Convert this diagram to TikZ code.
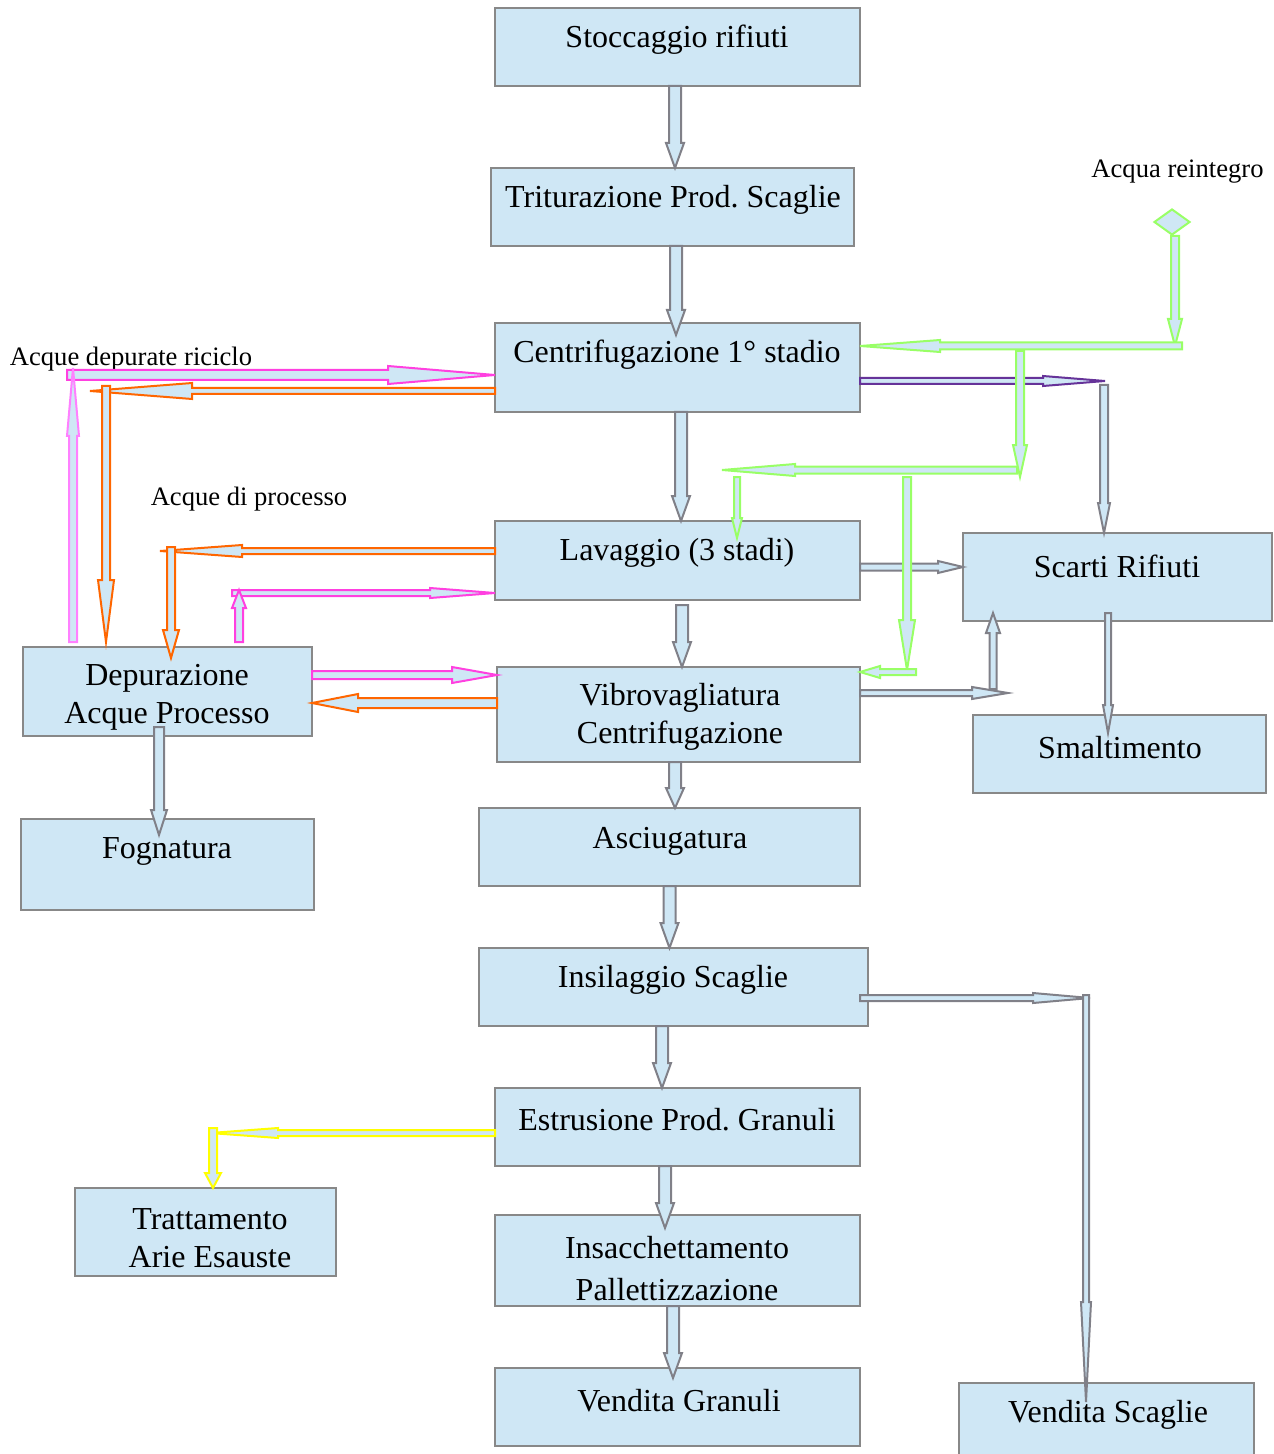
\documentclass[tikz,border=0pt]{standalone}
\usepackage{fontspec}
\setmainfont{Liberation Serif}
\usetikzlibrary{calc,shapes.geometric}
\definecolor{boxfill}{RGB}{207,231,245}
\definecolor{boxline}{RGB}{136,136,136}
\definecolor{flowgray}{RGB}{128,128,136}
\definecolor{flowpink}{RGB}{255,64,224}
\definecolor{flowlilac}{RGB}{255,128,255}
\definecolor{floworange}{RGB}{255,102,0}
\definecolor{flowgreen}{RGB}{153,255,102}
\definecolor{flowpurple}{RGB}{102,51,153}
\definecolor{flowyellow}{RGB}{255,255,0}
\frenchspacing
% block arrow: [colour]{from}{to}{shaft half width}{head half width}{head length}, sizes in px
\newcommand{\flow}[6][flowgray]{%
  \filldraw[fill=boxfill, draw=#1, line width=1pt]
    let \p1=(#2), \p2=(#3),
        \n1={veclen(\x2-\x1,\y2-\y1)},
        \n2={(\x2-\x1)/\n1}, \n3={(\y2-\y1)/\n1},
        \p4=({\x2-0.5*#6*\n2},{\y2-0.5*#6*\n3})
    in ({\x1-0.5*#4*\n3},{\y1+0.5*#4*\n2}) -- ({\x4-0.5*#4*\n3},{\y4+0.5*#4*\n2})
       -- ({\x4-0.5*#5*\n3},{\y4+0.5*#5*\n2}) -- (\p2)
       -- ({\x4+0.5*#5*\n3},{\y4-0.5*#5*\n2}) -- ({\x4+0.5*#4*\n3},{\y4-0.5*#4*\n2})
       -- ({\x1+0.5*#4*\n3},{\y1-0.5*#4*\n2}) -- cycle;}

\begin{document}
\begin{tikzpicture}[x=0.5pt, y=-0.5pt,
  box/.style = {draw=boxline, fill=boxfill, line width=1pt, inner sep=0pt, outer sep=0pt},
  boxtext/.style = {font=\fontsize{16}{19}\selectfont, align=center, inner sep=0pt},
  note/.style = {font=\fontsize{13.3}{16}\selectfont, inner sep=0pt}]
  \useasboundingbox (0,0) rectangle (1273,1454);

  \node[box, minimum width=182.5pt, minimum height=39pt] (stocc) at (677.5,47) {};
  \node[box, minimum width=181.5pt, minimum height=39pt] (trit) at (672.5,207) {};
  \node[box, minimum width=182.5pt, minimum height=44.5pt] (centr) at (677.5,367.5) {};
  \node[box, minimum width=182.5pt, minimum height=39.5pt] (lav) at (677.5,560.5) {};
  \node[box, minimum width=181.5pt, minimum height=47.5pt] (vibro) at (678.5,714.5) {};
  \node[box, minimum width=190.5pt, minimum height=39pt] (asciug) at (669.5,847) {};
  \node[box, minimum width=194.5pt, minimum height=39pt] (insil) at (673.5,987) {};
  \node[box, minimum width=182.5pt, minimum height=39pt] (estr) at (677.5,1127) {};
  \node[box, minimum width=182.5pt, minimum height=45.5pt] (insacc) at (677.5,1260.5) {};
  \node[box, minimum width=182.5pt, minimum height=39pt] (vendg) at (677.5,1407) {};
  \node[box, minimum width=154.5pt, minimum height=44pt] (scarti) at (1117.5,577) {};
  \node[box, minimum width=146.5pt, minimum height=39pt] (smalt) at (1119.5,754) {};
  \node[box, minimum width=147.5pt, minimum height=37.5pt] (vends) at (1106.5,1420.5) {};
  \node[box, minimum width=144.5pt, minimum height=44.5pt] (depur) at (167.5,691.5) {};
  \node[box, minimum width=146.5pt, minimum height=45.5pt] (fogn) at (167.5,864.5) {};
  \node[box, minimum width=130.5pt, minimum height=44pt] (tratt) at (205.5,1232) {};
  \node[diamond, draw=flowgreen, fill=boxfill, line width=1pt, minimum width=18pt, minimum height=13pt, inner sep=0pt] (dia) at (1172,222) {};

  \node[boxtext] (stocc-t) at (677,40) {Stoccaggio rifiuti};
  \node[boxtext] (trit-t) at (673,200) {Triturazione Prod. Scaglie};
  \node[boxtext] (centr-t) at (677,355) {Centrifugazione 1° stadio};
  \node[boxtext] (lav-t) at (677,553) {Lavaggio (3 stadi)};
  \node[boxtext] (vibro-t) at (680,717) {Vibrovagliatura\\Centrifugazione};
  \node[boxtext] (asciug-t) at (670,841) {Asciugatura};
  \node[boxtext] (insil-t) at (673,980) {Insilaggio Scaglie};
  \node[boxtext] (estr-t) at (677,1120) {Estrusione Prod. Granuli};
  \node[boxtext] (insacc-t) at (677,1269) {Insacchettamento\\[2pt]Pallettizzazione};
  \node[boxtext] (vendg-t) at (679,1401) {Vendita Granuli};
  \node[boxtext] (scarti-t) at (1117,566) {Scarti Rifiuti};
  \node[boxtext] (smalt-t) at (1120,748) {Smaltimento};
  \node[boxtext] (vends-t) at (1108,1415) {Vendita Scaglie};
  \node[boxtext] (depur-t) at (167,697) {Depurazione\\Acque Processo};
  \node[boxtext] (fogn-t) at (167,851) {Fognatura};
  \node[boxtext] (tratt-t) at (210,1238) {Trattamento\\Arie Esauste};
  \node[note] (reint) at (1177.5,172) {Acqua reintegro};
  \node[note] (ricic) at (131,359) {Acque depurate riciclo};
  \node[note] (proc) at (249,499) {Acque di processo};

  \coordinate (sR) at (1105,381);
  \coordinate (sD) at (1104,385);
  \coordinate (vR) at (1008,693);
  \coordinate (vU) at (993,689);
  \coordinate (iR) at (1090,998);
  \coordinate (iD) at (1086,995);
  \coordinate (gR) at (1182,346);
  \coordinate (gB) at (1020,351);
  \coordinate (gC) at (1020,477);
  \coordinate (gD) at (1017,470);
  \coordinate (gE) at (722,470);
  \coordinate (gF) at (737,477);
  \coordinate (gG) at (907,477);
  \coordinate (gH) at (916,672);
  \coordinate (pA) at (73,368);
  \coordinate (pB) at (67,375);
  \coordinate (pC) at (239,590);
  \coordinate (pD) at (232,593);
  \coordinate (oA) at (90,391);
  \coordinate (oB) at (106,386);
  \coordinate (oC) at (160,551);
  \coordinate (oD) at (171,547);
  \coordinate (yA) at (210,1133);
  \coordinate (yB) at (213,1128);

  \flow{[xshift=-1.25pt]stocc.south}{[xshift=-1.25pt]stocc.south |- trit.north}{6}{9}{25}
  \flow{[xshift=1.75pt]trit.south}{[xshift=1.75pt,yshift=-6pt]trit.south |- centr.north}{6}{9}{25}
  \flow{[xshift=1.75pt]centr.south}{[xshift=1.75pt]centr.south |- lav.north}{6}{9}{25}
  \flow{[xshift=2.25pt,yshift=-2.5pt]lav.south}{[xshift=2.25pt]lav.south |- vibro.north}{6}{9}{25}
  \flow{[xshift=-1.75pt]vibro.south}{[xshift=-1.75pt]vibro.south |- asciug.north}{6}{9}{20}
  \flow{asciug.south}{asciug.south |- insil.north}{6}{9}{25}
  \flow{[xshift=-5.75pt]insil.south}{[xshift=-5.75pt]insil.south |- estr.north}{6}{9}{25}
  \flow{[xshift=-6.25pt]estr.south}{[xshift=-6.25pt,yshift=-6.5pt]estr.south |- insacc.north}{6}{9}{25}
  \flow{[xshift=-2.25pt]insacc.south}{[xshift=-2.25pt,yshift=-5pt]insacc.south |- vendg.north}{6}{9}{25}
  \flow{[xshift=-4.25pt,yshift=4.5pt]depur.south}{[xshift=-4.25pt,yshift=-8pt]depur.south |- fogn.north}{5}{8}{25}
  \flow{[xshift=-4.75pt,yshift=4pt]scarti.south}{[xshift=-4.75pt,yshift=-9pt]scarti.south |- smalt.north}{3}{5}{28}

  \flow[flowpurple]{[yshift=-6.75pt]centr.east}{sR}{3}{5}{62}
  \flow{sD}{sD |- scarti.north}{4}{6}{30}
  \flow{[yshift=-3.25pt]lav.east}{[yshift=-3.25pt]lav.east -| scarti.west}{3.5}{6}{25}
  \flow{[yshift=10.75pt]vibro.east}{vR}{3}{6}{36}
  \flow{vU}{[yshift=4pt]vU |- scarti.south}{3.5}{7}{20}
  \flow{[xshift=-4pt,yshift=-5.5pt]insil.east}{iR}{3}{5}{57}
  \flow{iD}{[yshift=-9.5pt]iD |- vends.north}{3}{5}{100}

  \flow[flowgreen]{[xshift=1.5pt]dia.south}{[xshift=1.5pt]dia.south |- gR}{4}{7}{27}
  \flow[flowgreen]{gR}{gR -| centr.east}{3.5}{6}{80}
  \flow[flowgreen]{gB}{gC}{4}{7}{32}
  \flow[flowgreen]{gD}{gE}{3.5}{6}{73}
  \flow[flowgreen]{gF}{[yshift=-8.5pt]gF |- lav.north}{3}{5}{20}
  \flow[flowgreen]{gG}{[yshift=-1.5pt]gG |- vibro.north}{4}{8}{50}
  \flow[flowgreen]{gH}{gH -| vibro.east}{3}{6}{20}

  \flow[flowpink]{pB}{pB -| centr.west}{5}{9}{107}
  \flow[flowlilac]{[xshift=25pt,yshift=2.5pt]depur.north west}{pA}{4}{6}{68}
  \flow[flowpink]{pD}{pD -| lav.west}{3}{5}{65}
  \flow[flowpink]{[xshift=108pt,yshift=2.5pt]depur.north west}{pC}{4}{7}{18}
  \flow[flowpink]{[yshift=8.25pt]depur.east}{[yshift=8.25pt]depur.east -| vibro.west}{4}{8}{45}

  \flow[floworange]{[yshift=-11.75pt]centr.west}{oA}{3}{8}{102}
  \flow[floworange]{oB}{[yshift=2.5pt]oB |- depur.north}{4}{8}{62}
  \flow[floworange]{[yshift=4.75pt]lav.west}{oC}{3}{6}{82}
  \flow[floworange]{oD}{[yshift=-5.5pt]oD |- depur.north}{4}{8}{28}
  \flow[floworange]{[yshift=5.75pt]vibro.west}{[yshift=5.75pt]vibro.west -| depur.east}{5}{9}{46}

  \flow[flowyellow]{[yshift=-3pt]estr.west}{yA}{3}{5}{68}
  \flow[flowyellow]{yB}{yB |- tratt.north}{4}{8}{15}
\end{tikzpicture}
\end{document}
